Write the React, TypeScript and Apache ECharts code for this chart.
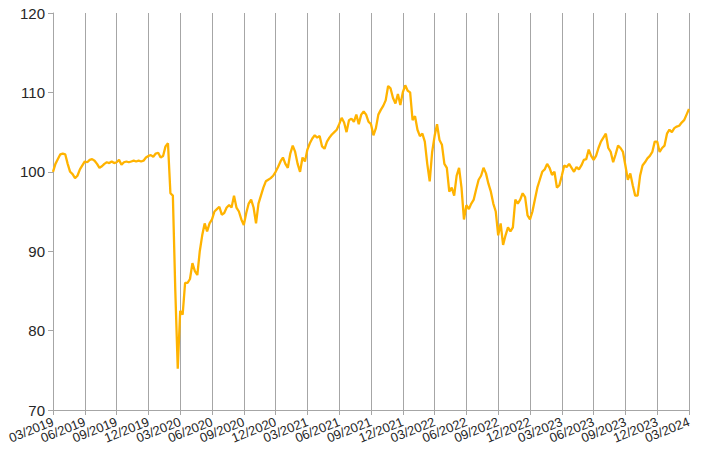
import React, { useEffect, useRef } from "react";
import * as echarts from "echarts";

// Quarter tick labels (every 13 weeks)
const tickLabels = [
  "03/2019", "06/2019", "09/2019", "12/2019",
  "03/2020", "06/2020", "09/2020", "12/2020",
  "03/2021", "06/2021", "09/2021", "12/2021",
  "03/2022", "06/2022", "09/2022", "12/2022",
  "03/2023", "06/2023", "09/2023", "12/2023",
  "03/2024",
];

// Weekly index values (13 per quarter)
const values2019 = [
  100.0, 101.0, 101.6, 102.2, 102.3, 102.2, 101.0, 100.0, 99.7, 99.2, 99.5, 100.3, 100.8,
  101.3, 101.2, 101.5, 101.6, 101.4, 101.0, 100.5, 100.7, 101.0, 101.2, 101.1, 101.3, 101.1,
  101.2, 101.5, 100.9, 101.2, 101.3, 101.2, 101.3, 101.4, 101.3, 101.4, 101.3, 101.4, 101.8,
  102.0, 102.1, 101.9, 102.3, 102.4, 101.8, 102.0, 103.2, 103.6, 97.3, 97.0, 85.0, 75.2,
];
const values2020 = [
  82.5, 82.0, 86.0, 86.0, 86.5, 88.5, 87.5, 87.0, 90.0, 92.0, 93.5, 92.5, 93.5,
  94.0, 95.0, 95.3, 95.6, 94.6, 94.8, 95.5, 95.8, 95.5, 97.0, 95.5, 95.0, 94.0,
  93.3, 94.8, 96.0, 96.5, 95.5, 93.5, 96.0, 97.0, 98.0, 98.8, 99.0, 99.2, 99.5,
  100.0, 100.6, 101.3, 101.8, 101.0, 100.5, 102.3, 103.3, 102.5, 101.0, 100.0, 101.8, 101.3,
];
const values2021 = [
  102.8, 103.6, 104.2, 104.6, 104.3, 104.5, 103.2, 102.9, 103.8, 104.3, 104.7, 105.0, 105.3,
  106.0, 106.8, 106.2, 105.0, 106.5, 106.7, 106.3, 107.2, 106.0, 107.2, 107.6, 107.2, 106.3,
  106.0, 104.6, 105.5, 107.2, 107.8, 108.3, 109.0, 110.8, 110.5, 109.3, 108.6, 109.8, 108.4,
  110.0, 110.9, 110.2, 110.0, 106.5, 107.0, 105.3, 104.5, 104.8, 103.8, 101.0, 98.8, 102.5,
];
const values2022 = [
  104.5, 106.0, 104.0, 103.4, 101.0, 100.5, 97.5, 98.0, 97.0, 99.5, 100.5, 98.0, 94.0,
  95.8, 95.3, 96.0, 96.5, 97.8, 99.0, 99.5, 100.5, 99.8, 98.5, 97.5, 96.0, 95.0,
  92.0, 93.5, 90.8, 92.0, 93.0, 92.5, 93.0, 96.5, 96.0, 96.5, 97.3, 96.8, 94.5,
  94.0, 95.0, 96.5, 98.0, 99.0, 100.0, 100.3, 101.0, 100.5, 99.6, 100.0, 98.0, 98.3,
];
const values2023 = [
  99.5, 100.8, 100.6, 101.0, 100.5, 100.0, 100.6, 100.3, 100.8, 101.5, 101.6, 102.8, 102.0,
  101.5, 102.0, 103.0, 103.8, 104.3, 104.8, 103.0, 102.5, 101.2, 102.2, 103.3, 103.0, 102.5,
  100.8, 99.0, 99.8, 98.3, 97.0, 97.0, 99.5, 100.8, 101.2, 101.7, 102.0, 102.5, 103.8,
  103.8, 102.5, 103.0, 103.3, 104.8, 105.3, 105.0, 105.5, 105.7, 105.8, 106.2, 106.5, 107.2,
];
const values2024 = [107.9];

const seriesValues = [
  ...values2019, ...values2020, ...values2021, ...values2022, ...values2023, ...values2024,
];

const WEEKS_PER_QUARTER = 13;
const categories = seriesValues.map((_, i) => String(i));

const yMin = 70;
const yMax = 120;
const yStep = 10;

export default function App() {
  const ref = useRef<HTMLDivElement>(null);

  useEffect(() => {
    if (!ref.current) return;
    const chart = echarts.init(ref.current, undefined, { renderer: "svg" });
    const font = "'Liberation Sans', Arial, sans-serif";
    const labelStyle = (parity: number) => ({
      interval: (idx: number) =>
        idx % WEEKS_PER_QUARTER === 0 &&
        (idx / WEEKS_PER_QUARTER) % 2 === parity,
      rotate: 22,
      margin: 11,
      showMinLabel: null,
      showMaxLabel: null,
      color: "#262626",
      fontSize: 13,
      fontFamily: font,
      formatter: (_v: string, idx: number) =>
        tickLabels[Math.round(idx / WEEKS_PER_QUARTER)] ?? "",
    });
    chart.setOption({
      animation: false,
      backgroundColor: "#ffffff",
      grid: { left: 53, right: 13, top: 13, bottom: 49, containLabel: false },
      xAxis: [
        {
          type: "category",
          data: categories,
          boundaryGap: false,
          position: "bottom",
          axisLine: { show: true, lineStyle: { color: "#a6a6a6", width: 1 } },
          axisTick: {
            show: true,
            interval: WEEKS_PER_QUARTER - 1,
            length: 5,
            lineStyle: { color: "#a6a6a6" },
          },
          splitLine: {
            show: true,
            interval: WEEKS_PER_QUARTER - 1,
            lineStyle: { color: "#a6a6a6", width: 1 },
          },
          axisLabel: labelStyle(0),
        },
        {
          type: "category",
          data: categories,
          boundaryGap: false,
          position: "bottom",
          offset: 0,
          axisLine: { show: false },
          axisTick: { show: false },
          splitLine: { show: false },
          axisLabel: labelStyle(1),
        },
      ],
      yAxis: {
        type: "value",
        min: yMin,
        max: yMax,
        interval: yStep,
        axisLine: { show: true, lineStyle: { color: "#a6a6a6", width: 1 } },
        axisTick: { show: true, length: 5, lineStyle: { color: "#a6a6a6" } },
        splitLine: { show: false },
        axisLabel: {
          color: "#262626",
          fontSize: 15,
          fontFamily: font,
          margin: 8,
        },
      },
      series: [
        {
          type: "line",
          xAxisIndex: 0,
          data: seriesValues,
          showSymbol: false,
          symbol: "none",
          smooth: false,
          lineStyle: { color: "#FFB300", width: 2.3 },
          itemStyle: { color: "#FFB300" },
        },
      ],
    });
    return () => chart.dispose();
  }, []);

  return (
    <div
      ref={ref}
      style={{ position: "absolute", left: 0, top: 0, width: 702, height: 459 }}
    />
  );
}
